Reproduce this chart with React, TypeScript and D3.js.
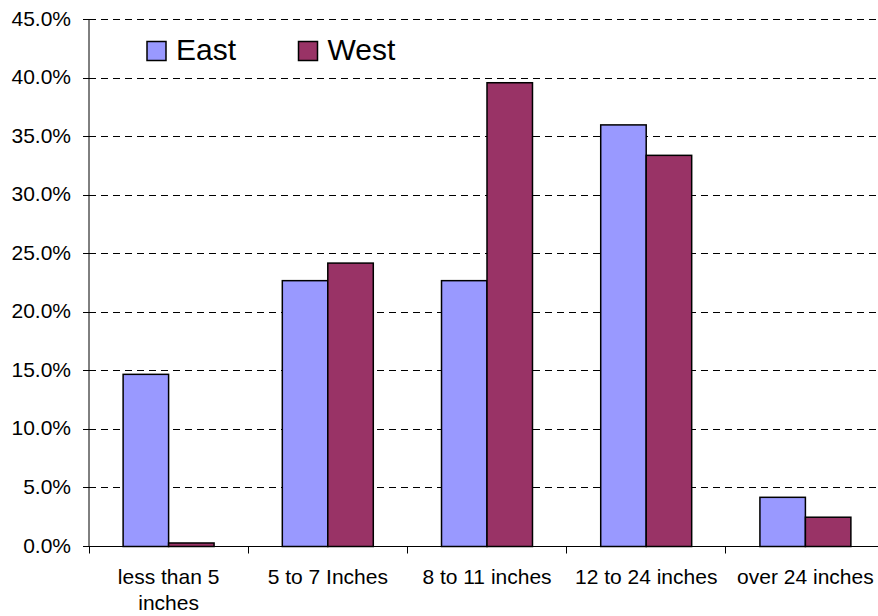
import React from "react";
import * as d3 from "d3";

const categories = ["less than 5 inches", "5 to 7 Inches", "8 to 11 inches", "12 to 24 inches", "over 24 inches"];
const categoryLines = [["less than 5", "inches"], ["5 to 7 Inches"], ["8 to 11 inches"], ["12 to 24 inches"], ["over 24 inches"]];
const seriesNames = ["East", "West"];
const eastValues = [14.7, 22.7, 22.7, 36.0, 4.2];
const westValues = [0.3, 24.2, 39.6, 33.4, 2.5];
const yTicks = [0, 5, 10, 15, 20, 25, 30, 35, 40, 45];
const colors = ["#9999FF", "#993366"];

export default function App() {
  const W = 878, H = 616;
  const left = 89, zeroY = 546.5, topY = 19.5;
  const bw = 159.2;
  const x0 = d3.scaleBand<string>().domain(categories).range([left, left + bw * categories.length]).paddingInner(0).paddingOuter(0);
  const gap = (bw * 1.5) / 3.5;
  const x1 = d3.scaleBand<string>().domain(seriesNames).range([gap / 2, bw - gap / 2]).padding(0);
  const y = d3.scaleLinear().domain([0, 45]).range([zeroY, topY]);
  const values = [eastValues, westValues];
  const font = "'Liberation Sans', Arial, sans-serif";
  const crisp = (v: number) => Math.round(v - 0.5) + 0.5;

  return (
    <svg width={W} height={H} style={{ position: "absolute", left: 0, top: 0, background: "#fff" }} fontFamily={font}>
      {/* gridlines */}
      {yTicks.filter((t) => t > 0).map((t) => (
        <line key={"g" + t} x1={left} x2={W} y1={crisp(y(t))} y2={crisp(y(t))} stroke="#000" strokeWidth={1} strokeDasharray="7,5" />
      ))}
      {/* bars */}
      {categories.map((c, i) =>
        seriesNames.map((s, j) => {
          const bx = (x0(c) as number) + (x1(s) as number);
          const v = values[j][i];
          return (
            <rect key={c + s} x={bx} y={y(v)} width={x1.bandwidth()} height={zeroY - y(v)} fill={colors[j]} stroke="#000" strokeWidth={1.5} />
          );
        })
      )}
      {/* y axis */}
      <line x1={left} x2={left} y1={topY} y2={zeroY} stroke="#000" strokeWidth={1} />
      {yTicks.map((t) => (
        <g key={"t" + t}>
          <line x1={left - 6} x2={left} y1={crisp(y(t))} y2={crisp(y(t))} stroke="#000" strokeWidth={1} />
          <text x={71} y={y(t) + 6} textAnchor="end" fontSize={21} fill="#000">{t.toFixed(1) + "%"}</text>
        </g>
      ))}
      {/* x axis */}
      <line x1={left} x2={W} y1={crisp(zeroY)} y2={crisp(zeroY)} stroke="#000" strokeWidth={1} />
      {categories.map((c) => (
        <line key={"xt" + c} x1={crisp(x0(c) as number)} x2={crisp(x0(c) as number)} y1={zeroY} y2={zeroY + 7} stroke="#000" strokeWidth={1} />
      ))}
      {categories.map((c, i) => (
        <text key={"xl" + c} x={(x0(c) as number) + bw / 2} y={584} textAnchor="middle" fontSize={21} fill="#000">
          {categoryLines[i].map((ln, k) => (
            <tspan key={k} x={(x0(c) as number) + bw / 2} dy={k === 0 ? 0 : 26}>{ln}</tspan>
          ))}
        </text>
      ))}
      {/* legend */}
      {seriesNames.map((s, j) => {
        const lx = [147, 298.5][j];
        return (
          <g key={"lg" + s}>
            <rect x={lx} y={41.5} width={19} height={19} fill={colors[j]} stroke="#000" strokeWidth={1.5} />
            <text x={lx + 29} y={59.5} fontSize={30} fill="#000">{s}</text>
          </g>
        );
      })}
    </svg>
  );
}
